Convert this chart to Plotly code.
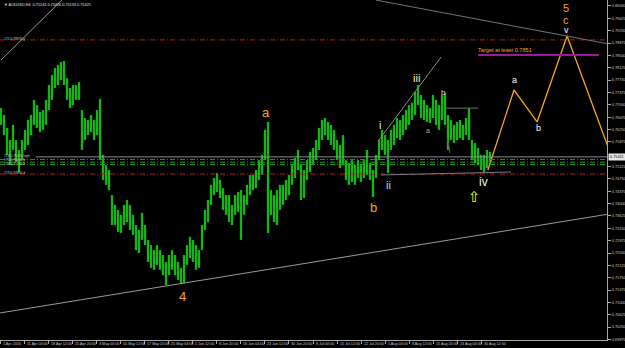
import plotly.graph_objects as go

# ---------------- data ----------------
bar_highs = [0.7690, 0.7669, 0.7630, 0.7593, 0.7639, 0.7593, 0.7563, 0.7593, 0.7624, 0.7654,
             0.7669, 0.7715, 0.7699, 0.7678, 0.7684, 0.7715, 0.7760, 0.7791, 0.7812, 0.7821,
             0.7830, 0.7833, 0.7781, 0.7751, 0.7760, 0.7760, 0.7769, 0.7684, 0.7660, 0.7654,
             0.7669, 0.7654, 0.7684, 0.7718, 0.7548, 0.7517, 0.7502, 0.7426, 0.7396, 0.7381,
             0.7366, 0.7396, 0.7411, 0.7396, 0.7366, 0.7335, 0.7320, 0.7372, 0.7335, 0.7290,
             0.7274, 0.7259, 0.7274, 0.7259, 0.7244, 0.7223, 0.7244, 0.7259, 0.7244, 0.7223,
             0.7205, 0.7244, 0.7274, 0.7299, 0.7290, 0.7274, 0.7259, 0.7335, 0.7381, 0.7411,
             0.7457, 0.7478, 0.7493, 0.7472, 0.7447, 0.7426, 0.7426, 0.7396, 0.7426, 0.7435,
             0.7441, 0.7426, 0.7457, 0.7487, 0.7487, 0.7502, 0.7532, 0.7548, 0.7624, 0.7648,
             0.7441, 0.7426, 0.7441, 0.7457, 0.7457, 0.7472, 0.7487, 0.7517, 0.7539, 0.7563,
             0.7517, 0.7502, 0.7532, 0.7557, 0.7569, 0.7593, 0.7630, 0.7654, 0.7660, 0.7648,
             0.7639, 0.7624, 0.7593, 0.7578, 0.7608, 0.7532, 0.7523, 0.7532, 0.7517, 0.7532,
             0.7517, 0.7532, 0.7563, 0.7523, 0.7502, 0.7548, 0.7593, 0.7624, 0.7608, 0.7593,
             0.7624, 0.7639, 0.7660, 0.7654, 0.7669, 0.7684, 0.7699, 0.7706, 0.7739, 0.7760,
             0.7730, 0.7715, 0.7699, 0.7690, 0.7730, 0.7715, 0.7699, 0.7730, 0.7736, 0.7669,
             0.7654, 0.7639, 0.7648, 0.7654, 0.7639, 0.7660, 0.7690, 0.7593, 0.7584, 0.7569,
             0.7548, 0.7548, 0.7563, 0.7557]
bar_lows = [0.7639, 0.7608, 0.7548, 0.7517, 0.7563, 0.7526, 0.7496, 0.7532, 0.7563, 0.7578,
            0.7608, 0.7639, 0.7630, 0.7617, 0.7624, 0.7639, 0.7684, 0.7715, 0.7751, 0.7760,
            0.7775, 0.7760, 0.7715, 0.7690, 0.7699, 0.7715, 0.7715, 0.7563, 0.7593, 0.7608,
            0.7617, 0.7593, 0.7608, 0.7532, 0.7472, 0.7457, 0.7441, 0.7335, 0.7335, 0.7314,
            0.7311, 0.7335, 0.7344, 0.7320, 0.7305, 0.7259, 0.7250, 0.7290, 0.7274, 0.7223,
            0.7205, 0.7199, 0.7214, 0.7199, 0.7183, 0.7153, 0.7183, 0.7199, 0.7183, 0.7168,
            0.7159, 0.7159, 0.7214, 0.7235, 0.7223, 0.7199, 0.7205, 0.7259, 0.7320, 0.7344,
            0.7396, 0.7426, 0.7435, 0.7417, 0.7381, 0.7366, 0.7344, 0.7335, 0.7366, 0.7375,
            0.7290, 0.7366, 0.7396, 0.7426, 0.7441, 0.7447, 0.7472, 0.7487, 0.7532, 0.7311,
            0.7366, 0.7344, 0.7335, 0.7381, 0.7396, 0.7411, 0.7426, 0.7457, 0.7478, 0.7502,
            0.7411, 0.7417, 0.7472, 0.7496, 0.7517, 0.7532, 0.7563, 0.7593, 0.7608, 0.7593,
            0.7578, 0.7563, 0.7532, 0.7508, 0.7517, 0.7472, 0.7457, 0.7466, 0.7457, 0.7478,
            0.7466, 0.7478, 0.7487, 0.7472, 0.7420, 0.7478, 0.7532, 0.7563, 0.7548, 0.7493,
            0.7563, 0.7578, 0.7599, 0.7593, 0.7608, 0.7624, 0.7639, 0.7654, 0.7669, 0.7699,
            0.7660, 0.7654, 0.7648, 0.7645, 0.7660, 0.7639, 0.7624, 0.7654, 0.7639, 0.7563,
            0.7593, 0.7584, 0.7593, 0.7599, 0.7593, 0.7608, 0.7593, 0.7532, 0.7523, 0.7517,
            0.7502, 0.7496, 0.7508, 0.7526]

x_tick_labels = ["1 Apr 2016", "11 Apr 04:00", "18 Apr 12:00", "25 Apr 20:00", "3 May 04:00",
                 "10 May 12:00", "17 May 20:00", "25 May 04:00", "1 Jun 12:00", "8 Jun 20:00",
                 "16 Jun 04:00", "23 Jun 12:00", "30 Jun 20:00", "8 Jul 04:00", "15 Jul 12:00",
                 "22 Jul 20:00", "1 Aug 04:00", "8 Aug 12:00", "15 Aug 20:00", "23 Aug 04:00",
                 "30 Aug 12:00"]
y_tick_values = [0.80000, 0.79625, 0.79250, 0.78875, 0.78500, 0.78125, 0.77750, 0.77375,
                 0.77000, 0.76625, 0.76250, 0.75875, 0.75125, 0.74750, 0.74375, 0.74000,
                 0.73625, 0.73250, 0.72875, 0.72500, 0.72125, 0.71750, 0.71375, 0.71000,
                 0.70625, 0.70250, 0.69875]
y_tick_labels = ["%.5f" % v for v in y_tick_values]

current_price = 0.7542
current_price_label = "0.75421"
target_price = 0.7851
target_text = "Target at least 0.7851"
red_levels = [0.7897, 0.7490]
green_levels = [0.7534, 0.7526, 0.7519]
proj_bars = [162.3, 171.0, 178.7, 188.7, 203.0]
proj_prices = [0.7502, 0.7745, 0.7648, 0.7909, 0.7556]
header_text = "\u25bc AUDUSD,H4  0.75241 0.75426 0.75133 0.75425"

# ---------------- figure ----------------
W, H = 625, 348
PLOT_W, PLOT_H = 607, 340
BARS_PER_TICK = 8
FONT = "Liberation Sans, Arial"


def px(x):
    return x / W


def py(y):
    return 1 - y / H


xs, ys = [], []
for i, (h, l) in enumerate(zip(bar_highs, bar_lows)):
    xs += [i, i, None]
    ys += [h, l, None]

fig = go.Figure()
fig.add_trace(go.Scatter(x=xs, y=ys, mode="lines",
                         line=dict(color="#12B812", width=2.3),
                         hoverinfo="skip", showlegend=False))
fig.add_trace(go.Scatter(x=proj_bars, y=proj_prices, mode="lines",
                         line=dict(color="#F5A623", width=1.3),
                         hoverinfo="skip", showlegend=False))

x_end = PLOT_W / W
shapes = []
for lv in red_levels:
    shapes.append(dict(type="line", xref="paper", yref="y", x0=0, x1=x_end, y0=lv, y1=lv,
                       line=dict(color="#C01818", width=1, dash="5px,2px,1px,2px")))
for lv in green_levels:
    shapes.append(dict(type="line", xref="paper", yref="y", x0=0, x1=x_end, y0=lv, y1=lv,
                       line=dict(color="#14A014", width=1, dash="5px,2px,1px,2px")))
shapes.append(dict(type="line", xref="paper", yref="y", x0=px(36), x1=x_end,
                   y0=current_price, y1=current_price, line=dict(color="#8A8A96", width=1)))
shapes.append(dict(type="line", xref="x", yref="y", x0=159.0, x1=199.3,
                   y0=target_price, y1=target_price, line=dict(color="#9A1A9A", width=2)))
trend = [
    ((0, 0.7836), (20.3, 0.8018), "#9A9A9A"),
    ((125.0, 0.8018), (202.4, 0.7885), "#6E7680"),
    ((-0.4, 0.7068), (202.4, 0.7368), "#9A9A9A"),
    ((125.7, 0.7590), (146.7, 0.7845), "#8A8A8A"),
    ((148.3, 0.7690), (159.0, 0.7690), "#707070"),
    ((126.7, 0.7487), (170.0, 0.7496), "#7A7A84"),
    ((148.7, 0.7602), (149.7, 0.7554), "#606060"),
]
for (a, b, c) in trend:
    shapes.append(dict(type="line", xref="x", yref="y", x0=a[0], y0=a[1], x1=b[0], y1=b[1],
                       line=dict(color=c, width=1)))

ann = []


def label(text, x, y, size, color, xanchor="center"):
    ann.append(dict(text=text, x=px(x), y=py(y), xref="paper", yref="paper",
                    xanchor=xanchor, yanchor="middle", showarrow=False, borderpad=0,
                    font=dict(size=size, color=color, family=FONT)))


ORANGE = "#F5A623"
label("5", 566, 7.5, 11, ORANGE)
label("c", 566, 20, 11, ORANGE)
label("v", 566, 30, 9, "#FFFFFF")
label("a", 266, 113, 13, ORANGE)
label("4", 182, 296, 13, ORANGE)
label("b", 373, 207, 13, ORANGE)
label("i", 380, 125, 11, "#E8E8E8")
label("ii", 388, 185, 11, "#C8D8FF")
label("iii", 416, 78, 11, "#FFE8B8")
label("a", 428, 131, 7, "#A8A8A8")
label("b", 443, 92, 8, "#D8D8D8")
label("iv", 483, 182, 12, "#F0F0F0")
label("a", 514, 80, 9, "#FFFFFF")
label("b", 538, 128, 9, "#FFFFFF")
ann.append(dict(text="\u21e7", x=px(483), y=py(197), xref="paper", yref="paper",
                showarrow=False, font=dict(size=15, color="#FFFF00", family="DejaVu Sans")))
label(target_text, 477, 50, 5.6, ORANGE, xanchor="left")
label(header_text, 3, 5, 3.8, "#E0E0E0", xanchor="left")
label("#72 0.78970 g", 3, 39, 3.3, "#D0D0D0", xanchor="left")
label("#74 0.75420 high", 3, 156, 3.3, "#D0D0D0", xanchor="left")
label("#75 0.75260 b", 3, 160, 3.3, "#D0D0D0", xanchor="left")
label("#76 0.75190 b", 3, 164, 3.3, "#D0D0D0", xanchor="left")
label("#73 0.74900 d", 3, 173, 3.3, "#D0D0D0", xanchor="left")
ann.append(dict(text=current_price_label, x=px(608), y=current_price, xref="paper", yref="y",
                xanchor="left", yanchor="middle", showarrow=False, bgcolor="#E6E6E6",
                borderpad=1, font=dict(size=3.8, color="#000000", family=FONT)))

tick_bars = [i * BARS_PER_TICK for i in range(len(x_tick_labels))]
for tb, tl in zip(tick_bars, x_tick_labels):
    ann.append(dict(text=tl, x=tb + 0.5, y=py(344), xref="x", yref="paper",
                    xanchor="left", yanchor="middle", showarrow=False, borderpad=0,
                    font=dict(size=3.7, color="#C8C8C8", family=FONT)))

fig.update_layout(
    width=W, height=H, autosize=False,
    margin=dict(l=0, r=0, t=0, b=0, pad=0),
    paper_bgcolor="#000000", plot_bgcolor="#000000",
    showlegend=False, shapes=shapes, annotations=ann,
    xaxis=dict(domain=[0, PLOT_W / W], range=[-0.33, 202.0], showgrid=False, zeroline=False,
               showline=True, linecolor="#A8A8A8", linewidth=1, ticks="outside", ticklen=3,
               tickcolor="#A8A8A8", tickvals=tick_bars, showticklabels=False,
               automargin=False),
    yaxis=dict(domain=[1 - PLOT_H / H, 1], range=[0.69860, 0.80182], side="right",
               showgrid=False, zeroline=False, showline=True, mirror=True,
               linecolor="#A8A8A8", linewidth=1, ticks="outside", ticklen=3,
               tickcolor="#A8A8A8", tickvals=y_tick_values, ticktext=y_tick_labels,
               automargin=False,
               tickfont=dict(size=3.8, color="#C8C8C8", family=FONT)),
)

fig.write_html("out.html")
